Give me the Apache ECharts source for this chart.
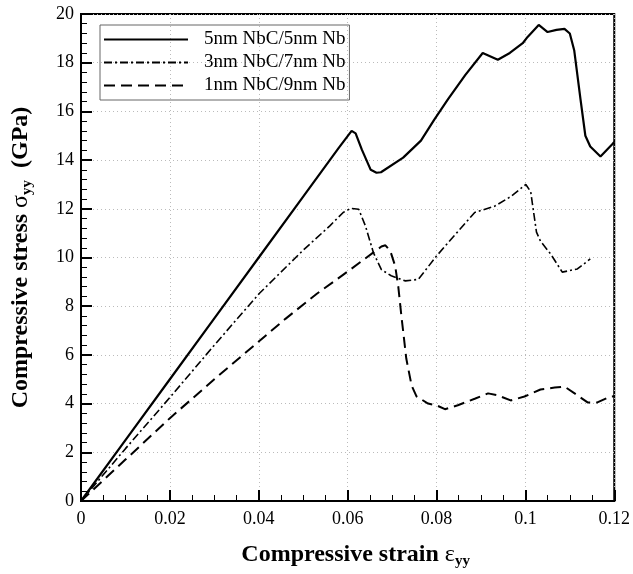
<!DOCTYPE html>
<html>
<head>
<meta charset="utf-8">
<script src="https://cdn.jsdelivr.net/npm/echarts@6/dist/echarts.min.js"></script>
<style>
  html, body { margin: 0; padding: 0; background: #fff; }
  #chart { width: 633px; height: 574px; }
</style>
</head>
<body>
<div id="chart"></div>
<script>
// 5nm NbC/5nm Nb
const strain5 = [0, 0.01, 0.02, 0.03, 0.04, 0.05, 0.058, 0.0609, 0.0618, 0.0632, 0.0652, 0.0665, 0.0675, 0.0725, 0.0765, 0.0795, 0.0826, 0.0865, 0.0904, 0.0938, 0.0965, 0.0994, 0.1005, 0.103, 0.105, 0.107, 0.1088, 0.11, 0.111, 0.1124, 0.1135, 0.1146, 0.1169, 0.1195, 0.12];
const stress5 = [0, 2.5, 5.0, 7.5, 10.0, 12.5, 14.5, 15.2, 15.1, 14.43, 13.6, 13.48, 13.5, 14.1, 14.8, 15.66, 16.5, 17.5, 18.4, 18.12, 18.4, 18.8, 19.06, 19.55, 19.26, 19.35, 19.39, 19.2, 18.5, 16.5, 15.0, 14.56, 14.15, 14.64, 14.75];
// 3nm NbC/7nm Nb
const strain3 = [0, 0.01, 0.02, 0.03, 0.04, 0.05, 0.056, 0.059, 0.0607, 0.0625, 0.064, 0.0658, 0.0676, 0.0698, 0.073, 0.0759, 0.08, 0.0845, 0.0886, 0.093, 0.0967, 0.1001, 0.1012, 0.1025, 0.1034, 0.1057, 0.1083, 0.1117, 0.1146];
const stress3 = [0, 2.15, 4.25, 6.4, 8.5, 10.3, 11.3, 11.85, 12.02, 11.98, 11.3, 10.2, 9.5, 9.25, 9.04, 9.1, 10.06, 11.0, 11.85, 12.1, 12.5, 13.0, 12.7, 11.04, 10.67, 10.14, 9.4, 9.53, 9.94];
// 1nm NbC/9nm Nb
const strain1 = [0, 0.01, 0.02, 0.03, 0.04, 0.046, 0.053, 0.0602, 0.0676, 0.0685, 0.0696, 0.0707, 0.0714, 0.0721, 0.0732, 0.0744, 0.0755, 0.0781, 0.08, 0.0819, 0.0848, 0.0886, 0.0916, 0.0938, 0.0967, 0.0998, 0.1034, 0.1066, 0.1088, 0.1117, 0.114, 0.1162, 0.1191, 0.12];
const stress1 = [0, 1.7, 3.4, 5.0, 6.55, 7.48, 8.5, 9.45, 10.45, 10.5, 10.27, 9.65, 8.8, 7.6, 5.85, 4.74, 4.3, 4.0, 3.93, 3.77, 3.93, 4.2, 4.42, 4.34, 4.13, 4.29, 4.58, 4.66, 4.7, 4.34, 4.05, 4.05, 4.29, 4.3];

const names = ["5nm NbC/5nm Nb", "3nm NbC/7nm Nb", "1nm NbC/9nm Nb"];

function pairs(xs, ys) {
  return xs.map(function (x, i) { return [x, ys[i]]; });
}

const serif = "'Liberation Serif', 'Times New Roman', serif";
const myChart = echarts.init(document.getElementById("chart"));

// rich styles for the axis names (bold text, plain greek letter, subscript)
const nameRich = {
  a: { fontFamily: serif, fontSize: 24, fontWeight: "bold", color: "#000" },
  g: { fontFamily: serif, fontSize: 24, fontWeight: "normal", color: "#000" },
  s: { fontFamily: serif, fontSize: 15, fontWeight: "bold", color: "#000", padding: [14, 0, 0, 0] }
};

const option = {
  animation: false,
  textStyle: { fontFamily: serif },
  grid: {
    left: 81, right: 16, top: 14, bottom: 71,
    show: true, borderColor: "#000", borderWidth: 2
  },
  legend: {
    left: 100, top: 25,
    orient: "vertical",
    itemWidth: 84, itemHeight: 16, itemGap: 4,
    padding: [5, 4, 5, 3],
    borderColor: "#666", borderWidth: 1,
    // hide the marker symbol, keep only the line sample
    itemStyle: { opacity: 0 },
    textStyle: { fontFamily: serif, fontSize: 19, color: "#000", padding: [0, 0, 0, 11] },
    data: names
  },
  xAxis: {
    type: "value",
    min: 0, max: 0.12, interval: 0.02,
    name: "{a|Compressive strain }{g|ε}{s|yy}",
    nameLocation: "middle",
    nameGap: 39,
    nameTextStyle: { padding: [0, 0, 0, 16], rich: nameRich },
    axisLine: { show: true, lineStyle: { color: "#000", width: 2 } },
    axisTick: { show: true, inside: true, length: 11, lineStyle: { color: "#000", width: 2 } },
    minorTick: { show: true, splitNumber: 4, length: 6, lineStyle: { color: "#000", width: 1 } },
    axisLabel: { fontFamily: serif, fontSize: 18, color: "#000", margin: 9 },
    splitLine: { show: true, lineStyle: { color: "#bbb", width: 1, type: [1, 3] } }
  },
  yAxis: {
    type: "value",
    min: 0, max: 20, interval: 2,
    name: "{a|Compressive stress }{g|σ}{s|yy}{a|  (GPa)}",
    nameLocation: "middle",
    nameGap: 46,
    nameRotate: 90,
    nameTextStyle: { rich: nameRich },
    axisLine: { show: true, lineStyle: { color: "#000", width: 2 } },
    axisTick: { show: true, inside: true, length: 11, lineStyle: { color: "#000", width: 2 } },
    minorTick: { show: true, splitNumber: 5, length: 6, lineStyle: { color: "#000", width: 1 } },
    axisLabel: { fontFamily: serif, fontSize: 18, color: "#000", margin: 7 },
    splitLine: { show: true, lineStyle: { color: "#bbb", width: 1, type: [1, 3] } }
  },
  series: [
    {
      name: names[0], type: "line", symbol: "none",
      lineStyle: { color: "#000", width: 2.2, type: "solid" },
      itemStyle: { color: "#000" },
      data: pairs(strain5, stress5)
    },
    {
      name: names[1], type: "line", symbol: "none",
      lineStyle: { color: "#000", width: 1.6, type: [8, 3, 2, 3] },
      itemStyle: { color: "#000" },
      data: pairs(strain3, stress3)
    },
    {
      name: names[2], type: "line", symbol: "none",
      lineStyle: { color: "#000", width: 2, type: [11, 6] },
      itemStyle: { color: "#000" },
      data: pairs(strain1, stress1)
    }
  ]
};

myChart.setOption(option);
window.addEventListener("resize", function () {
  myChart.resize();
});
</script>
</body>
</html>
